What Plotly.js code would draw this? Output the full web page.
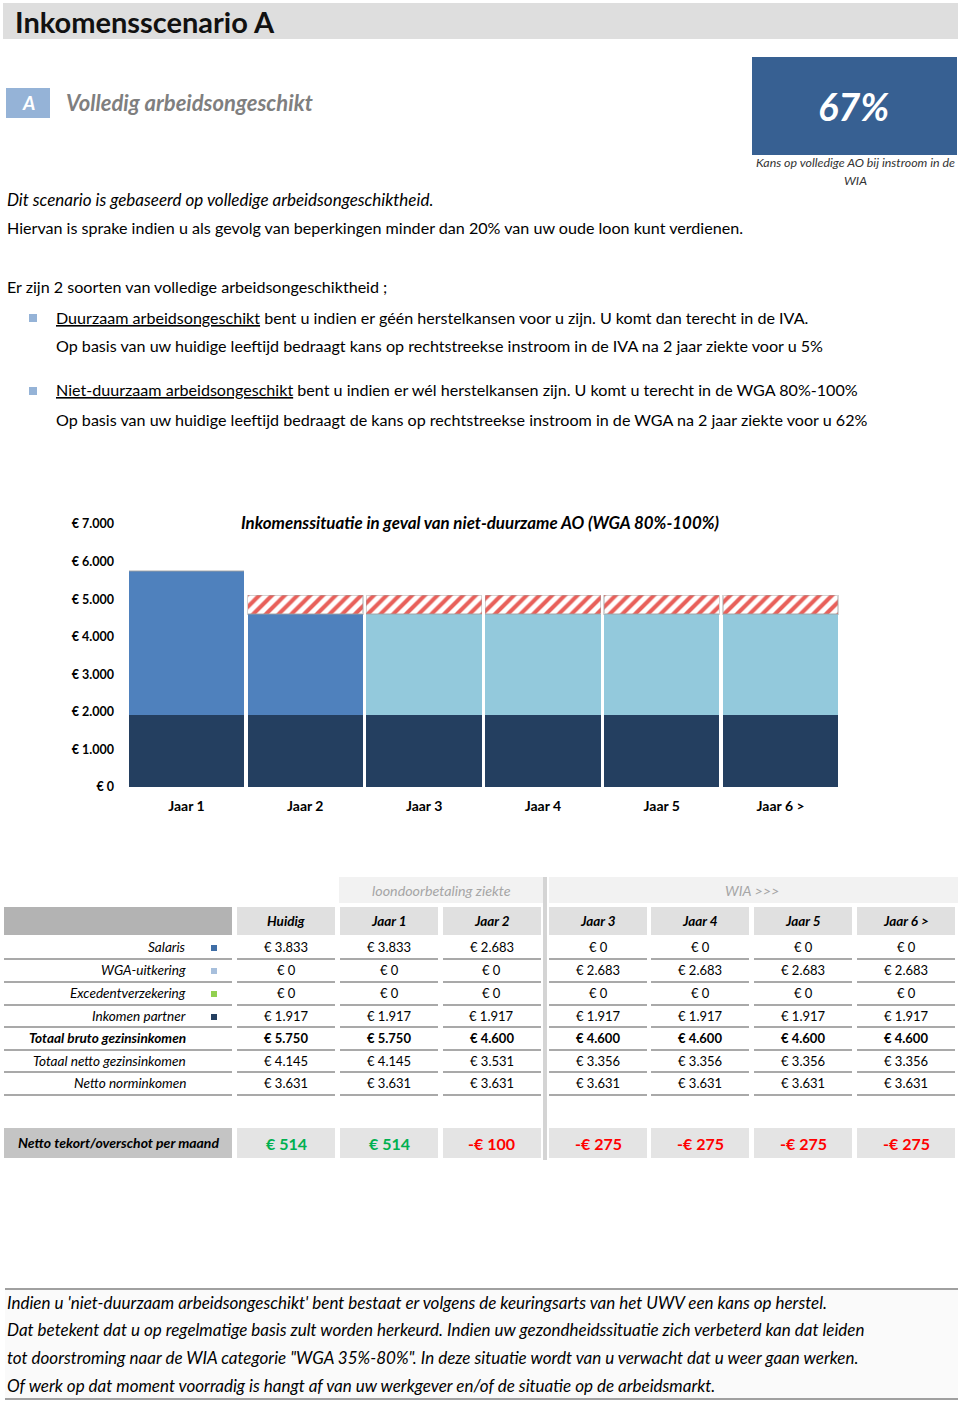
<!DOCTYPE html>
<html><head><meta charset="utf-8">
<script src="https://cdn.plot.ly/plotly-3.0.1.min.js"></script>
<style>html,body{margin:0;padding:0;background:#fff}#page{width:960px;height:1402px}</style>
</head><body><div id="page"></div>
<script>
// ---------- data ----------
const years = ['Jaar 1','Jaar 2','Jaar 3','Jaar 4','Jaar 5','Jaar 6 >'];
const columns = ['Huidig','Jaar 1','Jaar 2','Jaar 3','Jaar 4','Jaar 5','Jaar 6 >'];
const rowLabels = ['Salaris','WGA-uitkering','Excedentverzekering','Inkomen partner','Totaal bruto gezinsinkomen','Totaal netto gezinsinkomen','Netto norminkomen'];
const salaris = [3833,3833,2683,0,0,0,0];
const wgaUitkering = [0,0,0,2683,2683,2683,2683];
const excedent = [0,0,0,0,0,0,0];
const partner = [1917,1917,1917,1917,1917,1917,1917];
const brutoTotaal = [5750,5750,4600,4600,4600,4600,4600];
const nettoTotaal = [4145,4145,3531,3356,3356,3356,3356];
const nettoNorm = [3631,3631,3631,3631,3631,3631,3631];
const tekort = [514,514,-100,-275,-275,-275,-275];
const tekortBruto = [0,500,500,500,500,500]; // hatched gap (estimated)
const kansAO = '67%';
const kansIVA = '5%';
const kansWGA = '62%';

// ---------- helpers ----------
const W = 960, H = 1402;
const FONT = 'Lato, "Open Sans", sans-serif';
const px = x => x / W;
const py = y => 1 - y / H;
const thou = n => String(Math.abs(n)).replace(/\B(?=(\d{3})+(?!\d))/g, '.');
const eur = n => (n < 0 ? '-' : '') + '€ ' + thou(n);

const shapes = [];
const annotations = [];
function rect(x0, y0, x1, y1, color, line) {
  shapes.push({type:'rect', xref:'paper', yref:'paper', x0:px(x0), x1:px(x1), y0:py(y1), y1:py(y0),
    fillcolor:color, line:line || {width:0}, layer:'below'});
}
function hline(x0, x1, y, color, w) {
  shapes.push({type:'line', xref:'paper', yref:'paper', x0:px(x0), x1:px(x1), y0:py(y), y1:py(y),
    line:{color:color, width:w}, layer:'below'});
}
function text(x, y, t, o) {
  o = o || {};
  annotations.push({xref:'paper', yref:'paper', x:px(x), y:py(y), text:t, showarrow:false,
    xanchor:o.anchor || 'left', yanchor:'middle', align:o.anchor || 'left', borderpad:0, borderwidth:0,
    font:{family:o.family || FONT, size:o.size || 16, color:o.color || '#000', weight:o.weight || 'normal', style:o.style || 'normal'}});
}

// ---------- header ----------
rect(3, 3, 958, 39, '#dedede');
text(15, 21, 'Inkomensscenario A', {size:29, weight:'bold', color:'#111'});
rect(6, 88, 50, 118, '#95b3d7');
text(28, 103, 'A', {anchor:'center', size:19, weight:'bold', style:'italic', color:'#fff'});
text(66, 103, 'Volledig arbeidsongeschikt', {size:22, weight:'bold', style:'italic', color:'#7f7f7f'});
rect(752, 57, 957, 155, '#376092');
text(853, 106, kansAO, {anchor:'center', size:38, weight:'bold', style:'italic', color:'#fff'});
text(855, 163, 'Kans op volledige AO bij instroom in de', {anchor:'center', size:12.4, style:'italic', color:'#333'});
text(855, 180, 'WIA', {anchor:'center', size:12.4, style:'italic', color:'#333'});

text(7, 199, 'Dit scenario is gebaseerd op volledige arbeidsongeschiktheid.', {style:'italic', size:17});
text(7, 228, 'Hiervan is sprake indien u als gevolg van beperkingen minder dan 20% van uw oude loon kunt verdienen.', {size:16.1});
text(7, 287, 'Er zijn 2 soorten van volledige arbeidsongeschiktheid ;', {size:16.1});
rect(29, 314, 37, 322, '#95b3d7');
text(56, 317, '<u>Duurzaam arbeidsongeschikt</u> bent u indien er géén herstelkansen voor u zijn. U komt dan terecht in de IVA.', {size:16.1});
text(56, 346, 'Op basis van uw huidige leeftijd bedraagt kans op rechtstreekse instroom in de IVA na 2 jaar ziekte voor u ' + kansIVA, {size:16.1});
rect(29, 387, 37, 395, '#95b3d7');
text(56, 390, '<u>Niet-duurzaam arbeidsongeschikt</u> bent u indien er wél herstelkansen zijn. U komt u terecht in de WGA 80%-100%', {size:16.1});
text(56, 419, 'Op basis van uw huidige leeftijd bedraagt de kans op rechtstreekse instroom in de WGA na 2 jaar ziekte voor u ' + kansWGA, {size:16.1});

// ---------- table ----------
const colLeft = [237, 340, 443, 549, 651, 754, 857];
const colW = 98;
const colC = colLeft.map(l => l + colW / 2);
rect(339, 877, 543, 903, '#f2f2f2');
rect(549, 877, 958, 903, '#f2f2f2');
text(441, 890, 'loondoorbetaling ziekte', {anchor:'center', size:14.3, style:'italic', color:'#a6a6a6'});
text(752, 890, 'WIA >>>', {anchor:'center', size:14.3, style:'italic', color:'#a6a6a6'});
rect(543, 877, 547, 1160, '#d4d4d4');

rect(4, 907, 232, 935, '#b3b3b3');
columns.forEach((c, i) => {
  rect(colLeft[i], 907, colLeft[i] + colW, 935, '#e0e0e0');
  text(colC[i], 921, c, {anchor:'center', size:13.5, weight:'bold', style:'italic'});
});

const rows = [salaris, wgaUitkering, excedent, partner, brutoTotaal, nettoTotaal, nettoNorm];
const rowY = [947, 970, 993, 1016, 1038, 1061, 1083];
const lineY = [959, 982, 1005, 1027, 1050, 1072, 1095];
const markerColors = ['#3f6ea6', '#a7bfdc', '#92d050', '#243f60', null, null, null];
rows.forEach((r, k) => {
  const bold = k === 4;
  text(186, rowY[k], rowLabels[k], {anchor:'right', size:13.6, style:'italic', weight: bold ? 'bold' : 'normal'});
  if (markerColors[k]) rect(211, rowY[k] - 2, 217, rowY[k] + 4, markerColors[k]);
  hline(4, 232, lineY[k], '#8c8c8c', 1.5);
  r.forEach((v, i) => {
    text(colC[i], rowY[k], eur(v), {anchor:'center', size:13, weight: bold ? 'bold' : 'normal'});
    hline(colLeft[i], colLeft[i] + colW, lineY[k], '#8c8c8c', 1.5);
  });
});

rect(4, 1128, 232, 1158, '#c4c4c4');
text(118, 1142, 'Netto tekort/overschot per maand', {anchor:'center', size:14, weight:'bold', style:'italic'});
tekort.forEach((v, i) => {
  rect(colLeft[i], 1128, colLeft[i] + colW, 1158, '#e4e4e4');
  text(colC[i], 1143, eur(v), {anchor:'center', size:16, weight:'bold', color: v >= 0 ? '#00b050' : '#ff0000'});
});

// ---------- bottom note ----------
rect(5, 1289, 958, 1399, '#fafafa');
hline(5, 958, 1289, '#a0a0a0', 2);
hline(5, 958, 1399, '#a0a0a0', 2);
const noteLines = [
  "Indien u 'niet-duurzaam arbeidsongeschikt' bent bestaat er volgens de keuringsarts van het UWV een kans op herstel.",
  'Dat betekent dat u op regelmatige basis zult worden herkeurd. Indien uw gezondheidssituatie zich verbeterd kan dat leiden',
  'tot doorstroming naar de WIA categorie "WGA 35%-80%". In deze situatie wordt van u verwacht dat u weer gaan werken.',
  'Of werk op dat moment voorradig is hangt af van uw werkgever en/of de situatie op de arbeidsmarkt.'
];
[1302, 1329, 1357, 1385].forEach((y, i) => text(7, y, noteLines[i], {size:17, style:'italic'}));

// ---------- chart ----------
const chartTitle = 'Inkomenssituatie in geval van niet-duurzame AO (WGA 80%-100%)';
const traces = [
  {type:'bar', x:years, y:partner.slice(1), marker:{color:'#243f60'}, name:'Inkomen partner'},
  {type:'bar', x:years, y:salaris.slice(1), marker:{color:'#4f81bd'}, name:'Salaris'},
  {type:'bar', x:years, y:wgaUitkering.slice(1), marker:{color:'#93c9dc'}, name:'WGA-uitkering'},
  {type:'bar', x:years, y:tekortBruto, name:'Tekort',
    marker:{color:'#ffffff', line:{color:'rgba(160,160,160,0.45)', width:1.5},
      pattern:{shape:'/', fgcolor:'#e8605a', bgcolor:'#ffffff', size:9, solidity:0.45}}}
];
const layout = {
  width:W, height:H, margin:{l:0, r:0, t:0, b:0},
  paper_bgcolor:'#fff', plot_bgcolor:'rgba(0,0,0,0)',
  showlegend:false, barmode:'stack', bargap:0.03,
  separators:',.',
  font:{family:FONT},
  title:{text:chartTitle, x:px(480), y:py(523), xanchor:'center', yanchor:'middle',
    font:{family:FONT, size:16.9, weight:'bold', style:'italic', color:'#000'}},
  xaxis:{domain:[px(127), px(840)], showgrid:false, zeroline:false, showline:false, ticks:'',
    tickfont:{family:FONT, size:14, weight:'bold', color:'#000'}, ticklabelstandoff:9, fixedrange:true},
  yaxis:{domain:[py(787), py(524)], range:[0, 7000], dtick:1000, tickformat:',d', tickprefix:'€ ',
    showgrid:false, zeroline:false, showline:false, ticks:'',
    tickfont:{family:FONT, size:12.5, weight:'bold', color:'#000'}, ticklabelstandoff:12, fixedrange:true},
  shapes:shapes, annotations:annotations
};
Plotly.newPlot('page', traces, layout, {staticPlot:true, displayModeBar:false});
</script>
</body></html>
